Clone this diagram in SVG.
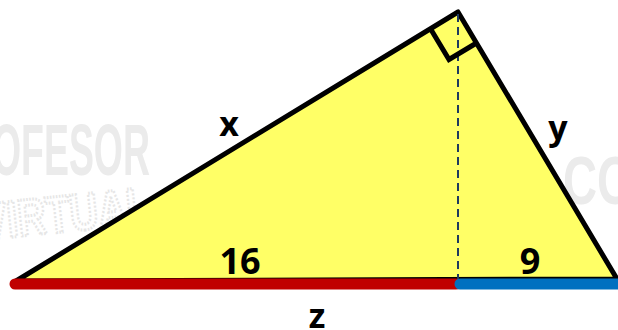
<svg xmlns="http://www.w3.org/2000/svg" width="618" height="330" viewBox="0 0 618 330">
<style>
.wm{font-family:"Liberation Sans",Arial,sans-serif;font-weight:bold;fill:#ebebeb}
.lbl{font-family:"Open Sans","Liberation Sans",Arial,sans-serif;font-weight:bold;fill:#000;text-anchor:middle}
</style>
<rect width="618" height="330" fill="#fff"/>
<g id="watermark">
<text class="wm" x="-60" y="175" font-size="72" textLength="210" lengthAdjust="spacingAndGlyphs">PROFESOR</text>
<text class="wm" x="-20" y="232" font-size="52" textLength="170" lengthAdjust="spacingAndGlyphs" transform="rotate(-6 60 210)" fill="none" stroke="#e6e6e6" stroke-width="3" stroke-dasharray="2 2" style="fill:none">VIRTUAL</text>
<text class="wm" x="563" y="204" font-size="68" textLength="110" lengthAdjust="spacingAndGlyphs">COM</text>
</g>
<g id="triangle">
<polygon points="16,281 458,12 617,279" fill="#ffff66" stroke="#000" stroke-width="5" stroke-linejoin="round"/>
</g>
<g id="connectors">
<line x1="458" y1="14" x2="458" y2="280" stroke="#1f3a5f" stroke-width="2" stroke-dasharray="8 5"/>
<polyline points="430.5,28.7 449,59.5 476.5,43" fill="none" stroke="#000" stroke-width="5" stroke-linejoin="miter"/>
<line x1="15" y1="284" x2="456" y2="284" stroke="#c00000" stroke-width="11" stroke-linecap="round"/>
<line x1="460" y1="284" x2="620" y2="284" stroke="#0070c0" stroke-width="11" stroke-linecap="round"/>
</g>
<g id="labels">
<text class="lbl" x="229" y="136" font-size="34">x</text>
<text class="lbl" x="558" y="140" font-size="34">y</text>
<text class="lbl" x="240" y="274" font-size="36">16</text>
<text class="lbl" x="530" y="274" font-size="36">9</text>
<text class="lbl" x="317" y="328" font-size="34">z</text>
</g>
</svg>
